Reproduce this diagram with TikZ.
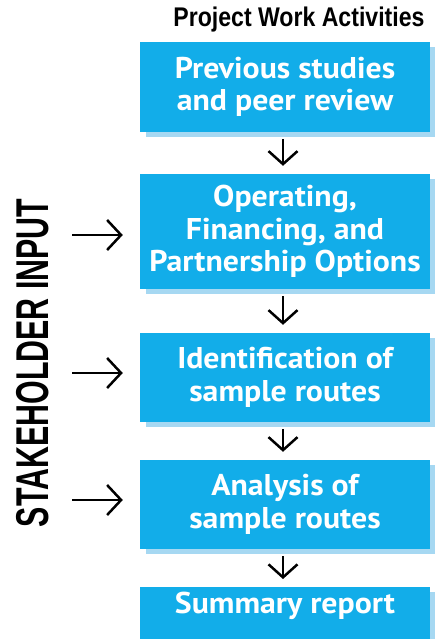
\documentclass[tikz,border=0pt]{standalone}
\usepackage{fontspec}
\usetikzlibrary{arrows.meta,shadows}
\newfontfamily\boxfont{PT Sans}[FakeStretch=1.06]
\newfontfamily\condfont{Liberation Sans}[FakeStretch=0.855]
\newfontfamily\stakefont{Liberation Sans}[FakeStretch=0.66]
\definecolor{boxblue}{HTML}{12ADE9}
\definecolor{shadowblue}{HTML}{A6D8F2}
\tikzset{
  stepbox/.style={fill=boxblue, text=white, align=center,
    font=\boxfont\bfseries\fontsize{30}{32.5}\selectfont,
    minimum width=290pt, inner sep=0pt,
    drop shadow={shadow xshift=6pt, shadow yshift=-5pt, fill=shadowblue, opacity=1}},
  flowarrow/.style={line width=2.5pt, -{Straight Barb[length=13pt,width=29pt]},
    shorten <=7pt, shorten >=8pt},
  inarrow/.style={line width=2.5pt, -{Straight Barb[length=14pt,width=30pt]}},
  heading/.style={font=\condfont\bfseries\fontsize{27}{27}\selectfont}
}
\begin{document}
\begin{tikzpicture}[x=1pt,y=1pt]
\useasboundingbox (0,0) rectangle (435,-639);
\clip (0,0) rectangle (435,-639);
\node[heading, anchor=base east] (title) at (428,-27) {Project Work Activities};
\node[font=\stakefont\bfseries\fontsize{46}{46}\selectfont, rotate=90] (stake) at (33,-363) {STAKEHOLDER INPUT};
\node[stepbox, minimum height=90pt] (box1) at (285,-87) {Previous studies\\and peer review};
\node[stepbox, minimum height=115pt] (box2) at (285,-231.5) {Operating,\\Financing, and\\Partnership Options};
\node[stepbox, minimum height=89pt] (box3) at (285,-377.5) {Identification of\\sample routes};
\node[stepbox, minimum height=89pt] (box4) at (285,-504.5) {Analysis of\\sample routes};
\node[stepbox, anchor=north, text height=26pt, text depth=60pt] (box5) at (285,-587) {Summary report};
\draw[flowarrow] ([xshift=-2pt]box1.south) -- ([xshift=-2pt]box2.north);
\draw[flowarrow] ([xshift=-2pt]box2.south) -- ([xshift=-2pt]box3.north);
\draw[flowarrow] ([xshift=-2pt]box3.south) -- ([xshift=-2pt]box4.north);
\draw[flowarrow] ([xshift=-2pt]box4.south) -- ([xshift=-2pt]box5.north);
\coordinate (s2) at (72,-235);
\coordinate (s3) at (72,-373);
\coordinate (s4) at (72,-500);
\draw[inarrow] (s2) -- ([xshift=-17pt]box2.west |- s2);
\draw[inarrow] (s3) -- ([xshift=-17pt]box3.west |- s3);
\draw[inarrow] (s4) -- ([xshift=-17pt]box4.west |- s4);
\end{tikzpicture}
\end{document}
